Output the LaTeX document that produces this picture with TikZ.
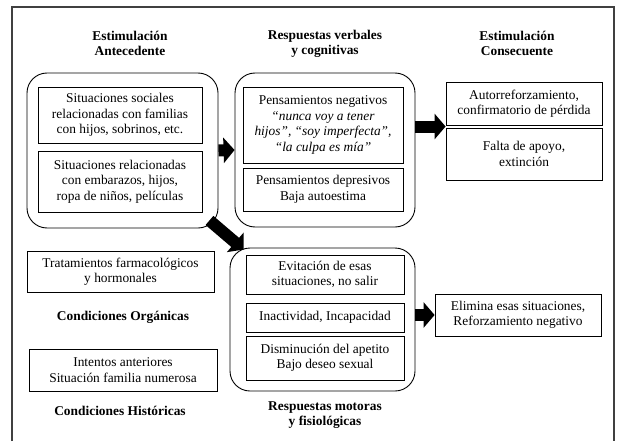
\documentclass[tikz,border=0pt]{standalone}
\usepackage{fontspec}
\setmainfont{Liberation Serif}
\usetikzlibrary{arrows.meta,calc}
\begin{document}
\begin{tikzpicture}[x=1pt,y=-1pt,
  txt/.style={font=\fontsize{13.4}{15.5}\selectfont, align=center, inner sep=0pt},
  head/.style={txt, font=\fontsize{13.4}{15}\selectfont\bfseries},
  box/.style={txt, draw=black, line width=0.8pt},
  group/.style={draw=black, line width=0.9pt, rounded corners=20pt, inner sep=0pt},
  bigarrow/.style={line width=12pt, black, -{Triangle[length=11pt,width=25pt]}}]
\useasboundingbox (0,0) rectangle (617,441);
\draw[black!75, line width=1.2pt] (12,441) -- (12,7) -- (614,7) -- (614,441);
% headings
\node[head] (h1) at (130,43.5) {Estimulación\\Antecedente};
\node[head] (h2) at (325,43.5) {Respuestas verbales\\y cognitivas};
\node[head] (h3) at (517,43.5) {Estimulación\\Consecuente};
% group 1
\node[group, minimum width=191pt, minimum height=155pt] (r1) at (122.5,150.5) {};
\node[box, minimum width=164pt, minimum height=56pt] (b1) at (120,115)
  {Situaciones sociales\\relacionadas con familias\\con hijos, sobrinos, etc.};
\node[box, minimum width=164pt, minimum height=61pt] (b2) at (120,181.5)
  {Situaciones relacionadas\\con embarazos, hijos,\\ropa de niños, películas};
% group 2
\node[group, minimum width=180pt, minimum height=154pt] (r2) at (325,150) {};
\node[box, minimum width=160pt, minimum height=76pt] (b3) at (323,125)
  {Pensamientos negativos\\\textit{“nunca voy a tener}\\\textit{hijos”, “soy imperfecta”,}\\\textit{“la culpa es mía”}};
\node[box, minimum width=160pt, minimum height=43pt] (b4) at (323,189.5)
  {Pensamientos depresivos\\Baja autoestima};
% consequences
\node[box, minimum width=156pt, minimum height=43pt] (c1) at (524,103.5)
  {Autorreforzamiento,\\confirmatorio de pérdida};
\node[box, minimum width=156pt, minimum height=52pt] (c2) at (524,154)
  {Falta de apoyo,\\extinción};
% conditions
\node[box, minimum width=187pt, minimum height=41pt] (t1) at (120.5,271.5)
  {Tratamientos farmacológicos\\y hormonales};
\node[head] (l1) at (123,317) {Condiciones Orgánicas};
\node[box, minimum width=188pt, minimum height=42pt] (t2) at (123,370)
  {Intentos anteriores\\Situación familia numerosa};
\node[head] (l2) at (120,411) {Condiciones Históricas};
% group 3
\node[group, minimum width=185pt, minimum height=143pt] (r3) at (322.5,319.5) {};
\node[box, minimum width=158pt, minimum height=39pt] (m1) at (325,274.5)
  {Evitación de esas\\situaciones, no salir};
\node[box, minimum width=158pt, minimum height=29pt] (m2) at (325,317.5)
  {Inactividad, Incapacidad};
\node[box, minimum width=158pt, minimum height=44pt] (m3) at (325,358)
  {Disminución del apetito\\Bajo deseo sexual};
\node[head] (h4) at (325,415) {Respuestas motoras\\y fisiológicas};
\node[box, minimum width=166pt, minimum height=42pt] (e1) at (518,315)
  {Elimina esas situaciones,\\Reforzamiento negativo};
% arrows
\coordinate (g) at ($(c1.south west)!0.5!(c2.north west)$);
\coordinate (a3s) at ($(r1.south east)+(-9,-8)$);
\coordinate (a3e) at ($(r3.north west)+(14,2)$);
\draw[bigarrow] (r1.east) -- (r2.west);
\draw[bigarrow] (r2.east |- g) -- (g);
\draw[bigarrow] (a3s) -- (a3e);
\draw[bigarrow] (r3.east |- e1.west) -- (e1.west);
\end{tikzpicture}
\end{document}
